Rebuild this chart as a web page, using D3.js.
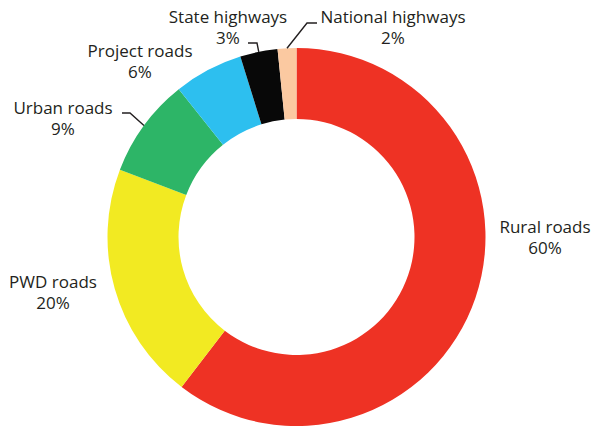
<!DOCTYPE html>
<html>
<head>
<meta charset="utf-8">
<script src="https://cdn.jsdelivr.net/npm/d3@7"></script>
<style>
  html, body { margin: 0; padding: 0; background: #fff; }
  svg { display: block; }
  text { font-family: "Open Sans", sans-serif; font-size: 17px; fill: #231f20; }
</style>
</head>
<body>
<svg id="chart" width="593" height="427"></svg>
<script>
// Data
const categories = ["Rural roads", "PWD roads", "Urban roads", "Project roads", "State highways", "National highways"];
const shares = [60.4, 20.4, 8.5, 5.9, 3.2, 1.6];
const colors = ["#EE3224", "#F2EA22", "#2DB567", "#2DBFEF", "#080808", "#FBC9A1"];

// Layout (label anchor points, not data)
const labelPos = [
  { x: 545, y: 233 },
  { x: 53, y: 288 },
  { x: 63, y: 114 },
  { x: 140, y: 57 },
  { x: 228, y: 23 },
  { x: 393, y: 23 }
];
// leader elbows for slices with leader lines
const leaders = [
  null, null,
  { x0: 122, x1: 130, y: 113 },
  null,
  { x0: 248, x1: 257, y: 43 },
  { x0: 317, x1: 307, y: 23 }
];

const svg = d3.select("#chart");
const cx = 296.5, cy = 237, rOuter = 189, rInner = 118;
const g = svg.append("g").attr("transform", `translate(${cx},${cy})`);

const pie = d3.pie().sort(null).value(d => d);
const arcs = pie(shares);
const arc = d3.arc().innerRadius(rInner).outerRadius(rOuter);

g.selectAll("path.slice")
  .data(arcs)
  .join("path")
  .attr("class", "slice")
  .attr("d", arc)
  .attr("fill", (d, i) => colors[i]);

// Leader lines
arcs.forEach((d, i) => {
  const L = leaders[i];
  if (!L) return;
  const mid = (d.startAngle + d.endAngle) / 2;
  const px = cx + rOuter * Math.sin(mid);
  const py = cy - rOuter * Math.cos(mid);
  const pts = [[L.x0, L.y], [L.x1, L.y], [px, py]];
  svg.append("path")
    .attr("d", d3.line()(pts))
    .attr("fill", "none")
    .attr("stroke", "#231f20")
    .attr("stroke-width", 1.4);
});

// Labels
categories.forEach((c, i) => {
  const t = svg.append("text")
    .attr("text-anchor", "middle")
    .attr("x", labelPos[i].x)
    .attr("y", labelPos[i].y);
  t.append("tspan").attr("x", labelPos[i].x).text(c);
  t.append("tspan").attr("x", labelPos[i].x).attr("dy", 21)
    .text(Math.round(shares[i]) + "%");
});
</script>
</body>
</html>
